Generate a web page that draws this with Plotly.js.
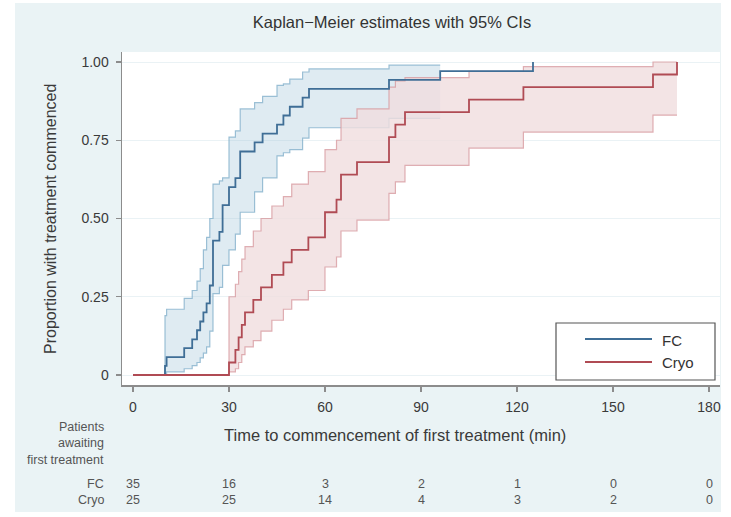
<!DOCTYPE html>
<html><head><meta charset="utf-8">
<script src="https://cdn.plot.ly/plotly-3.0.1.min.js"></script>
<style>html,body{margin:0;padding:0;background:#fff;} #chart{width:731px;height:517px;}</style>
</head><body><div id="chart"></div>
<script>
// ---- data ----
const fcTime = [0,10,10.5,16,18.5,20,21,22,23,24,25,27,28,30,32,33.5,38,40.5,45,47,49,53,55,80,96,125];
const fcSurv = [0,0.029,0.057,0.086,0.114,0.143,0.171,0.2,0.229,0.286,0.429,0.457,0.543,0.6,0.629,0.714,0.743,0.771,0.8,0.829,0.857,0.886,0.914,0.943,0.971,1.0];
const fcCiTime = [10,10.5,16,18.5,20,21,22,23,24,25,27,28,30,32,33.5,38,40.5,45,47,49,53,55,80,96];
const fcLower = [0.005,0.01,0.02,0.03,0.04,0.055,0.07,0.09,0.14,0.26,0.28,0.35,0.40,0.45,0.52,0.585,0.63,0.70,0.71,0.72,0.757,0.79,0.82,0.82];
const fcUpper = [0.19,0.21,0.245,0.27,0.30,0.34,0.40,0.44,0.50,0.61,0.62,0.63,0.76,0.78,0.85,0.87,0.89,0.925,0.93,0.945,0.968,0.978,0.99,0.99];

const cryoTime = [0,30,32,33,34,35,37.6,40,43.4,47,49.6,54.8,60,63.6,65,70,80,82,85,105,122,162.5,170];
const cryoSurv = [0,0.04,0.08,0.12,0.16,0.20,0.24,0.28,0.32,0.36,0.40,0.44,0.52,0.56,0.64,0.68,0.76,0.80,0.84,0.88,0.92,0.96,1.0];
const cryoCiTime = [30,32,33,34,35,37.6,40,43.4,47,49.6,54.8,60,63.6,65,70,80,82,85,105,122,162.5,170];
const cryoLower = [0.01,0.02,0.04,0.065,0.09,0.11,0.14,0.175,0.21,0.24,0.27,0.345,0.377,0.46,0.495,0.58,0.617,0.67,0.725,0.776,0.83,0.83];
const cryoUpper = [0.25,0.29,0.33,0.37,0.41,0.46,0.50,0.54,0.57,0.61,0.65,0.72,0.75,0.82,0.85,0.92,0.94,0.95,0.97,0.985,1.0,1.0];

const xTicks = [0,30,60,90,120,150,180];
const yTicks = [0,0.25,0.5,0.75,1];
const yTickText = ['0','0.25','0.50','0.75','1.00'];
const groups = ['FC','Cryo'];
const riskFC = [35,16,3,2,1,0,0];
const riskCryo = [25,25,14,4,3,2,0];

// ---- styling ----
const FONT = 'Liberation Sans, Arial, sans-serif';
const fcLine = '#3f6e96', fcCiLine = 'rgba(125,172,200,0.75)', fcFill = 'rgba(160,196,218,0.34)';
const cryoLine = '#b04b54', cryoCiLine = 'rgba(214,150,155,0.75)', cryoFill = 'rgba(240,221,222,0.8)';

function band(t, lo, up, lc, fc) {
  return [
    {x: [t[0]].concat(t), y: [0].concat(lo), mode: 'lines', line: {shape: 'hv', color: lc, width: 1.2}, showlegend: false, hoverinfo: 'skip'},
    {x: [t[0]].concat(t), y: [0].concat(up), mode: 'lines', line: {shape: 'hv', color: lc, width: 1.2}, fill: 'tonexty', fillcolor: fc, showlegend: false, hoverinfo: 'skip'}
  ];
}

const traces = []
  .concat(band(fcCiTime, fcLower, fcUpper, fcCiLine, fcFill))
  .concat(band(cryoCiTime, cryoLower, cryoUpper, cryoCiLine, cryoFill))
  .concat([
    {x: fcTime, y: fcSurv, name: groups[0], mode: 'lines', line: {shape: 'hv', color: fcLine, width: 1.8}, showlegend: false},
    {x: cryoTime, y: cryoSurv, name: groups[1], mode: 'lines', line: {shape: 'hv', color: cryoLine, width: 1.8}, showlegend: false}
  ]);

// pixel helpers for layout placement (plot area: 122..720 x, 52..385 y)
const L = 122, R = 720, T = 52, B = 385;
const px = v => (v - L) / (R - L);
const py = v => (B - v) / (B - T);

function note(text, x, y, opts) {
  return Object.assign({text: text, xref: 'paper', yref: 'paper', x: px(x), y: py(y), xanchor: 'center', yanchor: 'middle', showarrow: false,
    font: {family: FONT, size: 12.5, color: '#555'}}, opts || {});
}

const annotations = [
  note('Proportion with treatment commenced', 50, 219, {textangle: -90, font: {family: FONT, size: 16, color: '#3a3a3a'}}),
  note('Time to commencement of first treatment (min)', 395, 435, {font: {family: FONT, size: 16.5, color: '#3a3a3a'}}),
  note('Patients', 106, 427, {xanchor: 'right'}),
  note('awaiting', 106, 443, {xanchor: 'right'}),
  note('first treatment', 106, 460, {xanchor: 'right'}),
  note(groups[0], 106, 484, {xanchor: 'right'}),
  note(groups[1], 106, 500, {xanchor: 'right'}),
  // legend texts
  note(groups[0], 660, 340, {xanchor: 'left', font: {family: FONT, size: 15, color: '#333'}}),
  note(groups[1], 660, 362, {xanchor: 'left', font: {family: FONT, size: 15, color: '#333'}})
];
xTicks.forEach((t, i) => {
  annotations.push({text: String(riskFC[i]), xref: 'x', yref: 'paper', x: t, y: py(484), yanchor: 'middle', showarrow: false, font: {family: FONT, size: 12.5, color: '#555'}});
  annotations.push({text: String(riskCryo[i]), xref: 'x', yref: 'paper', x: t, y: py(500), yanchor: 'middle', showarrow: false, font: {family: FONT, size: 12.5, color: '#555'}});
});

const shapes = [
  {type: 'rect', xref: 'paper', yref: 'paper', x0: px(15), x1: px(721), y0: py(512), y1: py(3), fillcolor: '#eaf3f5', line: {width: 0}, layer: 'below'},
  {type: 'rect', xref: 'paper', yref: 'paper', x0: 0, x1: 1, y0: 0, y1: 1, fillcolor: '#ffffff', line: {width: 0}, layer: 'below'},
  // legend box
  {type: 'rect', xref: 'paper', yref: 'paper', x0: px(556), x1: px(715), y0: py(380), y1: py(323), fillcolor: '#ffffff', line: {color: '#555', width: 1.2}},
  {type: 'line', xref: 'paper', yref: 'paper', x0: px(585), x1: px(652), y0: py(339), y1: py(339), line: {color: fcLine, width: 1.8}},
  {type: 'line', xref: 'paper', yref: 'paper', x0: px(585), x1: px(652), y0: py(362), y1: py(362), line: {color: cryoLine, width: 1.8}}
];

const layout = {
  width: 731, height: 517,
  margin: {l: L, r: 731 - R, t: T, b: 517 - B},
  paper_bgcolor: '#ffffff', plot_bgcolor: '#ffffff',
  font: {family: FONT, color: '#333'},
  title: {text: 'Kaplan\u2212Meier estimates with 95% CIs', x: 392 / 731, xanchor: 'center', y: 1 - 22 / 517, yanchor: 'middle', font: {family: FONT, size: 16.5, color: '#333'}},
  xaxis: {range: [(L - 133) / 3.2, (R - 133) / 3.2], tickvals: xTicks, ticktext: xTicks.map(String), showgrid: false, zeroline: false,
          showline: true, linecolor: '#8c8c8c', linewidth: 1.5, ticks: 'outside', ticklen: 5, tickcolor: '#8c8c8c', tickwidth: 1.2,
          tickfont: {family: FONT, size: 14, color: '#3a3a3a'}, ticklabelstandoff: 4},
  yaxis: {range: [(375 - B) / 313, (375 - T) / 313], tickvals: yTicks, ticktext: yTickText, showgrid: true, gridcolor: '#eaf2f5', gridwidth: 1, zeroline: false,
          showline: true, linecolor: '#8c8c8c', linewidth: 1.5, ticks: 'outside', ticklen: 5, tickcolor: '#8c8c8c', tickwidth: 1.2,
          tickfont: {family: FONT, size: 14, color: '#3a3a3a'}, ticklabelstandoff: 4},
  showlegend: false,
  annotations: annotations,
  shapes: shapes
};

Plotly.newPlot('chart', traces, layout, {staticPlot: true, displayModeBar: false});
</script>
</body></html>
